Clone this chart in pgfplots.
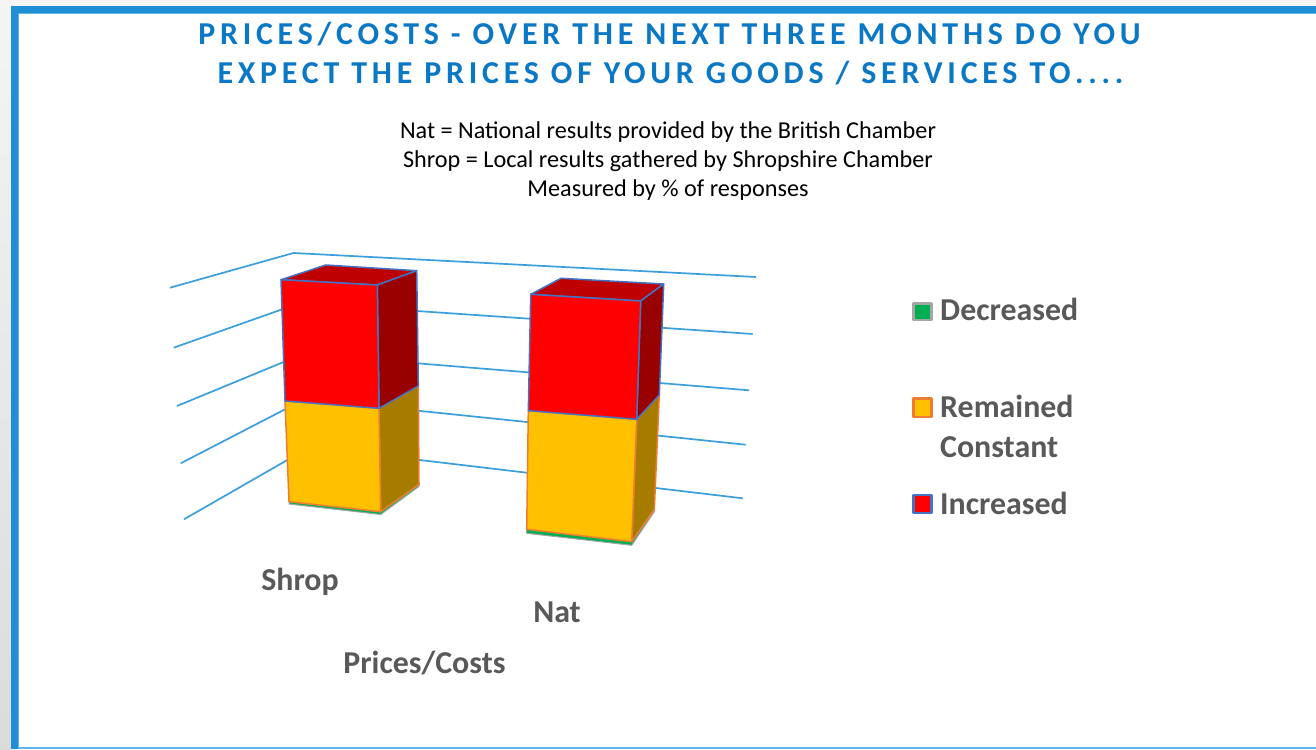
\documentclass[border=0pt]{standalone}
\usepackage{fontspec}
\setmainfont{Carlito}
\usepackage{pgfplots}
\pgfplotsset{compat=1.18}
\definecolor{frameblue}{HTML}{1E8FD5}
\definecolor{framelight}{HTML}{62B5EA}
\definecolor{gridblue}{HTML}{3A9FDC}
\definecolor{titleblue}{HTML}{0B78C6}
\definecolor{labgray}{HTML}{595959}
\definecolor{redF}{HTML}{FF0000}
\definecolor{redT}{HTML}{BF0000}
\definecolor{redS}{HTML}{990000}
\definecolor{yelF}{HTML}{FFC000}
\definecolor{yelS}{HTML}{A67C00}
\definecolor{greF}{HTML}{00B050}
\definecolor{edgeB}{HTML}{4472C4}
\definecolor{edgeO}{HTML}{ED7D31}
\definecolor{edgeG}{HTML}{A5A5A5}
\newcommand{\ttl}[1]{{\fontsize{32}{32}\selectfont\bfseries\addfontfeature{LetterSpace=15}#1}}
\tikzset{
  sub/.style={anchor=base,text=black,font=\fontsize{24.3}{24.3}\selectfont},
  lab/.style={text=labgray,inner sep=0pt,font=\fontsize{32}{32}\selectfont\bfseries},
  gl/.style={gridblue,line width=1.7bp,no marks}
}
\begin{document}
\begin{tikzpicture}[x=1bp,y=1bp]
\path[use as bounding box] (0,0) rectangle (1316,749);
\begin{axis}[at={(0,0)},anchor=south west,scale only axis,width=1316bp,height=749bp,
  xmin=0,xmax=1316,ymin=0,ymax=749,y dir=reverse,hide axis,clip=false,
  every axis plot/.append style={line join=round}]
% surroundings and frame
\fill[white!96!black] (axis cs:0,0) rectangle (axis cs:1316,7);
\shade[top color=white!96!black,bottom color=white!86!black] (axis cs:0,0) rectangle (axis cs:11,749);
\fill[frameblue] (axis cs:11,6) rectangle (axis cs:1316,749);
\fill[framelight] (axis cs:18,13) rectangle (axis cs:1316,749);
\fill[white] (axis cs:19,14) rectangle (axis cs:1316,747);
% wall grid
\addplot[gl] coordinates {(170,287.7)(293.5,253)(756,277)};
\addplot[gl] coordinates {(173.7,347.7)(300,303)(752.7,334)};
\addplot[gl] coordinates {(177,406)(303,354)(749,390.3)};
\addplot[gl] coordinates {(180.7,463.3)(305,399)(745.7,444.7)};
\addplot[gl] coordinates {(184,519.3)(310,447)(742.7,498.3)};
% Shrop
\addplot[fill=greF,draw=edgeG,line width=1bp] coordinates {(289,501.7)(380.7,511.7)(419,484.3)(419,486.5)(380.7,514.5)(289,504)} --cycle;
\addplot[fill=yelS,draw=edgeO,line width=1.5bp] coordinates {(379,408.3)(418.3,386)(419,484.3)(380.7,511.7)} --cycle;
\addplot[fill=yelF,draw=edgeO,line width=1.5bp] coordinates {(285,401)(379,408.3)(380.7,511.7)(289,501.7)} --cycle;
\addplot[fill=redT,draw=edgeB,line width=1.5bp] coordinates {(281,279.7)(325.7,265)(416.7,270.7)(377.3,285)} --cycle;
\addplot[fill=redS,draw=edgeB,line width=1.5bp] coordinates {(377.3,285)(416.7,270.7)(418.3,386)(379,408.3)} --cycle;
\addplot[fill=redF,draw=edgeB,line width=1.5bp] coordinates {(281,279.7)(377.3,285)(379,408.3)(285,401)} --cycle;
% Nat
\addplot[fill=greF,draw=edgeG,line width=1bp] coordinates {(526.7,529.3)(631.7,541.7)(654.3,509.3)(654.3,511.7)(631.7,545.3)(526.7,533.3)} --cycle;
\addplot[fill=yelS,draw=edgeO,line width=1.5bp] coordinates {(636.7,419.3)(659.3,395)(654.3,509.3)(631.7,541.7)} --cycle;
\addplot[fill=yelF,draw=edgeO,line width=1.5bp] coordinates {(528.3,410.7)(636.7,419.3)(631.7,541.7)(526.7,529.3)} --cycle;
\addplot[fill=redT,draw=edgeB,line width=1.5bp] coordinates {(530.7,294.3)(561,278.3)(663.7,284)(640.7,301)} --cycle;
\addplot[fill=redS,draw=edgeB,line width=1.5bp] coordinates {(640.7,301)(663.7,284)(659.3,395)(636.7,419.3)} --cycle;
\addplot[fill=redF,draw=edgeB,line width=1.5bp] coordinates {(530.7,294.3)(640.7,301)(636.7,419.3)(528.3,410.7)} --cycle;
% legend swatches
\addplot[fill=greF,draw=edgeG,line width=2.5bp] coordinates {(913.5,303.5)(931.5,303.5)(931.5,320)(913.5,320)} --cycle;
\addplot[fill=yelF,draw=edgeO,line width=2.5bp] coordinates {(913.5,398.5)(931.5,398.5)(931.5,417)(913.5,417)} --cycle;
\addplot[fill=redF,draw=edgeB,line width=2.5bp] coordinates {(913.5,495)(931.5,495)(931.5,513)(913.5,513)} --cycle;
% texts
\node[anchor=base,text=titleblue] at (axis cs:669.5,44.5) {\ttl{PRICES/COSTS - OVER THE NEXT THREE MONTHS DO YOU}};
\node[anchor=base,text=titleblue] at (axis cs:670.5,83.5) {\ttl{EXPECT THE PRICES OF YOUR GOODS / SERVICES TO....}};
\node[sub] at (axis cs:668,139) {Nat = National results provided by the British Chamber};
\node[sub] at (axis cs:668,168) {Shrop = Local results gathered by Shropshire Chamber};
\node[sub] at (axis cs:668,197) {Measured by \% of responses};
\node[lab,anchor=base west] at (axis cs:940,321) {Decreased};
\node[lab,anchor=base west] at (axis cs:940,417) {Remained};
\node[lab,anchor=base west] at (axis cs:940,457) {Constant};
\node[lab,anchor=base west] at (axis cs:940,514) {Increased};
\node[lab,anchor=base] at (axis cs:300,590) {Shrop};
\node[lab,anchor=base] at (axis cs:557,622) {Nat};
\node[lab,anchor=base] at (axis cs:424.5,673) {Prices/Costs};
\end{axis}
\end{tikzpicture}
\end{document}
